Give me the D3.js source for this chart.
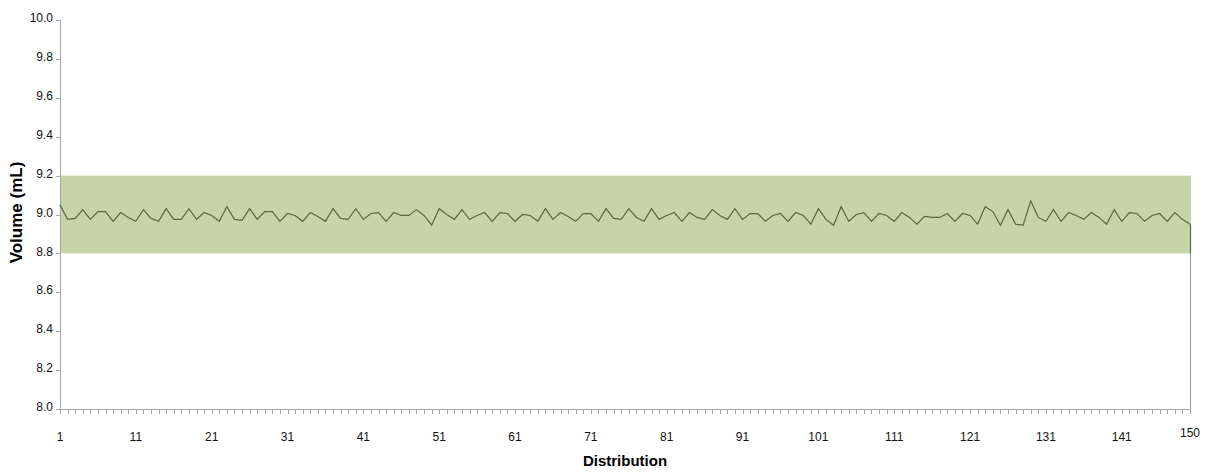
<!DOCTYPE html>
<meta charset="utf-8">
<style>
  body { margin: 0; background: #fff; }
  #chart { position: absolute; left: 0; top: 0; }
  .tick-label { font-family: "Liberation Sans Narrow", "Arial Narrow", "Liberation Sans", sans-serif; font-size: 12px; fill: #111; }
  .axis-title { font-family: "Liberation Sans", Arial, sans-serif; font-weight: bold; font-size: 14px; fill: #000; }
</style>
<body>
<div id="chart"></div>
<script src="https://d3js.org/d3.v7.min.js"></script>
<script>

  // volume per distribution (mL)
  var volumes = [
    9.05, 8.975, 8.98, 9.025, 8.975, 9.015, 9.015, 8.965, 9.01, 8.985,
    8.965, 9.025, 8.98, 8.965, 9.03, 8.975, 8.975, 9.03, 8.975, 9.01,
    8.995, 8.965, 9.04, 8.975, 8.97, 9.03, 8.975, 9.015, 9.015, 8.965,
    9.005, 8.995, 8.965, 9.01, 8.99, 8.965, 9.03, 8.98, 8.975, 9.03,
    8.975, 9.005, 9.01, 8.965, 9.01, 8.995, 8.995, 9.025, 8.995, 8.945,
    9.03, 9.00, 8.975, 9.025, 8.975, 8.995, 9.01, 8.965, 9.01, 9.005,
    8.965, 9.00, 8.995, 8.965, 9.03, 8.975, 9.01, 8.99, 8.965, 9.005,
    9.005, 8.965, 9.03, 8.98, 8.975, 9.03, 8.985, 8.965, 9.03, 8.975,
    8.995, 9.01, 8.965, 9.01, 8.985, 8.975, 9.025, 8.995, 8.975, 9.03,
    8.975, 9.005, 9.005, 8.965, 8.995, 9.005, 8.965, 9.01, 8.995, 8.95,
    9.03, 8.975, 8.945, 9.04, 8.965, 9.00, 9.01, 8.965, 9.005, 8.995,
    8.965, 9.01, 8.985, 8.95, 8.99, 8.985, 8.985, 9.005, 8.965, 9.005,
    8.995, 8.95, 9.04, 9.015, 8.945, 9.025, 8.95, 8.945, 9.07, 8.985,
    8.965, 9.025, 8.965, 9.01, 8.995, 8.975, 9.01, 8.985, 8.95, 9.025,
    8.965, 9.01, 9.005, 8.965, 8.995, 9.005, 8.965, 9.01, 8.975, 8.95
  ];
  var bandLow = 8.8, bandHigh = 9.2;
  var yTicks = [8.0, 8.2, 8.4, 8.6, 8.8, 9.0, 9.2, 9.4, 9.6, 9.8, 10.0];
  var xLabels = [1, 11, 21, 31, 41, 51, 61, 71, 81, 91, 101, 111, 121, 131, 141, 150];

  var width = 1212, height = 472;
  var svg = d3.select("#chart").append("svg")
    .attr("width", width)
    .attr("height", height);

  var x = d3.scaleLinear().domain([1, volumes.length]).range([60, 1190]);
  var y = d3.scaleLinear().domain([8, 10]).range([409, 20]);

  // spec band
  svg.append("rect")
    .attr("x", x(1))
    .attr("width", x(volumes.length) - x(1) + 1)
    .attr("y", y(bandHigh))
    .attr("height", y(bandLow) - y(bandHigh))
    .attr("fill", "#c6d5a8");

  // right edge below band
  svg.append("line")
    .attr("x1", x(volumes.length) + 0.5).attr("x2", x(volumes.length) + 0.5)
    .attr("y1", y(bandLow)).attr("y2", y(8))
    .attr("stroke", "#9a9a9a").attr("stroke-width", 1);

  // y axis
  svg.append("line")
    .attr("x1", x(1) + 0.5).attr("x2", x(1) + 0.5)
    .attr("y1", y(10)).attr("y2", y(8))
    .attr("stroke", "#a6a6a6");
  svg.selectAll(".ytick").data(yTicks).enter().append("line")
    .attr("x1", x(1) - 4).attr("x2", x(1))
    .attr("y1", d => Math.round(y(d)) + 0.5).attr("y2", d => Math.round(y(d)) + 0.5)
    .attr("stroke", "#a6a6a6");
  svg.selectAll(".ylab").data(yTicks).enter().append("text")
    .attr("class", "tick-label")
    .attr("x", x(1) - 7)
    .attr("y", d => y(d) - 1)
    .attr("text-anchor", "end")
    .attr("dominant-baseline", "middle")
    .text(d => d.toFixed(1));

  // x axis
  svg.append("line")
    .attr("x1", x(1)).attr("x2", x(volumes.length) + 1)
    .attr("y1", y(8) + 0.5).attr("y2", y(8) + 0.5)
    .attr("stroke", "#a6a6a6");
  svg.selectAll(".xtick").data(d3.range(1, volumes.length + 1)).enter().append("line")
    .attr("x1", d => Math.round(x(d)) + 0.5).attr("x2", d => Math.round(x(d)) + 0.5)
    .attr("y1", y(8)).attr("y2", y(8) + 5)
    .attr("stroke", "#a6a6a6");
  svg.selectAll(".xlab").data(xLabels).enter().append("text")
    .attr("class", "tick-label")
    .attr("x", d => x(d))
    .attr("y", d => d == 150 ? 437 : 441)
    .attr("text-anchor", "middle")
    .text(d => d);

  // volume line
  var line = d3.line()
    .x((d, i) => x(i + 1))
    .y(d => y(d));
  svg.append("path")
    .datum(volumes)
    .attr("d", line)
    .attr("fill", "none")
    .attr("stroke", "#56683f")
    .attr("stroke-width", 1.2);
  svg.append("line")
    .attr("x1", x(volumes.length) + 0.5).attr("x2", x(volumes.length) + 0.5)
    .attr("y1", y(volumes[volumes.length - 1])).attr("y2", y(bandLow))
    .attr("stroke", "#56683f").attr("stroke-width", 1.2);

  // titles
  svg.append("text")
    .attr("class", "axis-title")
    .attr("x", 625).attr("y", 466)
    .attr("text-anchor", "middle")
    .style("font-family", "'Liberation Sans Narrow', 'Arial Narrow', sans-serif")
    .style("font-size", "15px")
    .text("Distribution");
  svg.append("text")
    .attr("class", "axis-title")
    .attr("transform", "translate(22," + (y(9) - 2) + ") rotate(-90)")
    .attr("text-anchor", "middle")
    .style("font-size", "17px")
    .text("Volume (mL)");
</script>
</body>
